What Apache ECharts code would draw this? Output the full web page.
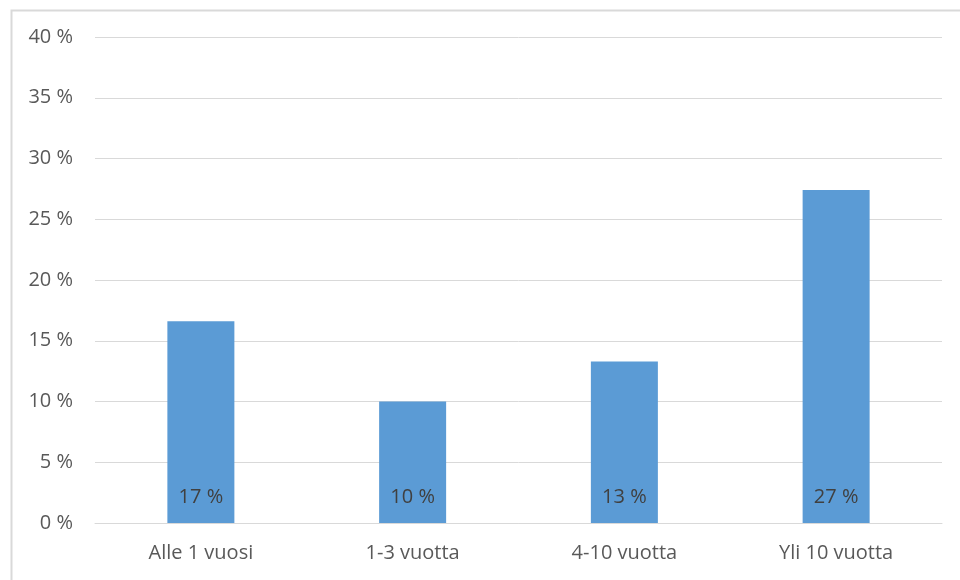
<!DOCTYPE html>
<html>
<head>
<meta charset="utf-8">
<script src="https://cdn.jsdelivr.net/npm/echarts@6/dist/echarts.min.js"></script>
<style>
  html, body { margin: 0; padding: 0; background: #fff; }
  #chart { width: 960px; height: 580px; }
</style>
</head>
<body>
<div id="chart"></div>
<script>
// data
var categories = ["Alle 1 vuosi", "1-3 vuotta", "4-10 vuotta", "Yli 10 vuotta"];
var shares = [16.6, 10.0, 13.3, 27.4];
var yTicks = [0, 5, 10, 15, 20, 25, 30, 35, 40];

var font = "Open Sans";
var myChart = echarts.init(document.getElementById("chart"));

var option = {
  animation: false,
  backgroundColor: "#fff",
  graphic: [
    {
      type: "rect",
      left: 9, top: 8,
      shape: { width: 1000, height: 600 },
      style: { fill: "none", stroke: "#d9d9d9", lineWidth: 2 },
      silent: true
    }
  ],
  grid: { left: 95, right: 18, top: 37, bottom: 57 },
  xAxis: {
    type: "category",
    data: categories,
    axisLine: { show: true, lineStyle: { color: "#d9d9d9", width: 1 } },
    axisTick: { show: false },
    axisLabel: { color: "#595959", fontSize: 20, fontFamily: font, margin: 20 }
  },
  yAxis: {
    type: "value",
    min: yTicks[0],
    max: yTicks[yTicks.length - 1],
    interval: 5,
    axisLine: { show: false },
    axisTick: { show: false },
    splitLine: { lineStyle: { color: "#d9d9d9", width: 1 } },
    axisLabel: {
      color: "#595959", fontSize: 20, fontFamily: font, margin: 22,
      formatter: function (v) { return v + " %"; }
    }
  },
  series: [
    {
      type: "bar",
      data: shares,
      barWidth: 67,
      itemStyle: { color: "#5b9bd5" },
      label: {
        show: true,
        position: "insideBottom",
        distance: 16,
        color: "#404040",
        fontSize: 20,
        fontFamily: font,
        formatter: function (p) { return Math.round(p.value) + " %"; }
      }
    }
  ]
};

myChart.setOption(option);
</script>
</body>
</html>
